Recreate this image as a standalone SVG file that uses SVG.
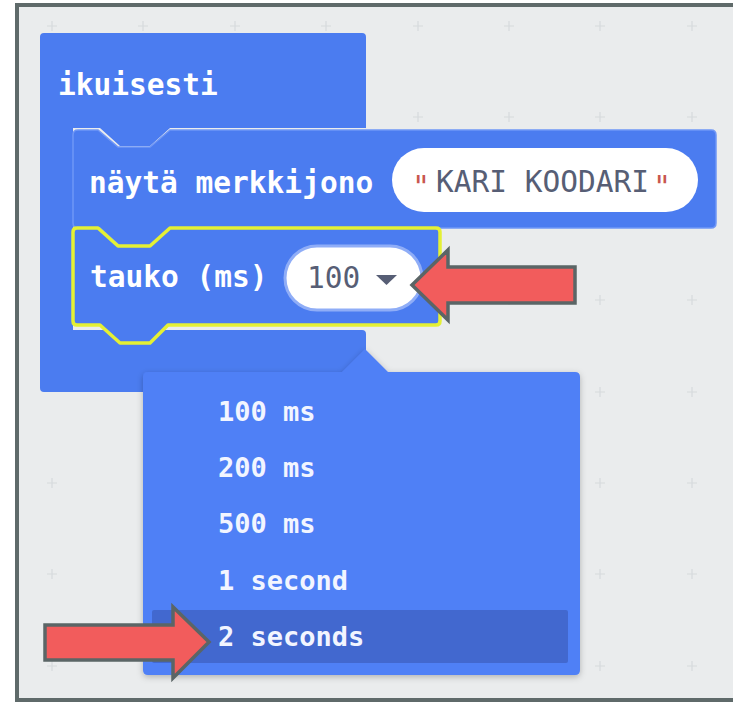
<svg xmlns="http://www.w3.org/2000/svg" width="733" height="702" viewBox="0 0 733 702">
<defs>
<style>
.blk{fill:#4b7cf0}
.txt{font-family:"DejaVu Sans Mono","Liberation Mono",monospace;font-weight:bold;font-size:29.5px;fill:#ffffff}
.menu{font-size:27px;fill:#f2f5ff}
.val{font-weight:normal;fill:#575e75}
.quote{font-weight:normal;fill:#c9574f;font-size:30px}
.arrow{fill:#f25c5c;stroke:#5b6566;stroke-width:3.5;stroke-linejoin:miter}
.grid{stroke:#d6dadc;stroke-width:1.2;fill:none}
</style>
<filter id="sh" x="-10%" y="-10%" width="120%" height="120%">
<feDropShadow dx="0" dy="2" stdDeviation="3" flood-color="#000" flood-opacity="0.25"/>
</filter>
</defs>
<g id="background">
<rect x="0" y="0" width="733" height="702" fill="#ffffff"/>
<rect x="17" y="5" width="730" height="695" fill="#eaeced" stroke="#5f6a6a" stroke-width="4"/>
<path class="grid" d="M47,26h10M52,21v10 M138,26h10M143,21v10 M230,26h10M235,21v10 M321,26h10M326,21v10 M413,26h10M418,21v10 M504,26h10M509,21v10 M595,26h10M600,21v10 M687,26h10M692,21v10
M413,117h10M418,112v10 M504,117h10M509,112v10 M595,117h10M600,112v10 M687,117h10M692,112v10
M595,209h10M600,204v10 M687,209h10M692,204v10
M504,300h10M509,295v10 M595,300h10M600,295v10 M687,300h10M692,295v10
M595,392h10M600,387v10 M687,392h10M692,387v10
M47,483h10M52,478v10 M595,483h10M600,478v10 M687,483h10M692,478v10
M47,574h10M52,569v10 M595,574h10M600,569v10 M687,574h10M692,569v10
M47,666h10M52,661v10 M595,666h10M600,661v10 M687,666h10M692,661v10"/>
</g>
<g id="ikuisesti">
<path class="blk" d="M44,33 H362 Q366,33 366,37 V128 H170 L150,146 H120 L100,128 H73 V330 H362 Q366,330 366,334 V388 Q366,392 362,392 H44 Q40,392 40,388 V37 Q40,33 44,33 Z"/>
<text class="txt" x="58" y="95">ikuisesti</text>
</g>
<g id="nayta-merkkijono">
<path class="blk" stroke="#6f96f6" stroke-width="1.5" d="M78,130 H98 L118,147 H150 L170,130 H711 Q716,130 716,135 V223 Q716,228 711,228 H170 L150,246 H120 L100,228 H78 Q73,228 73,223 V135 Q73,130 78,130 Z"/>
<text class="txt" x="89" y="193">näytä merkkijono</text>
<rect x="392" y="148" width="306" height="64" rx="32" fill="#ffffff"/>
<text class="txt quote" x="421" y="197" text-anchor="middle">"</text>
<text class="txt val" x="436" y="192">KARI KOODARI</text>
<text class="txt quote" x="662" y="197" text-anchor="middle">"</text>
</g>
<g id="tauko">
<path class="blk" stroke="#e4f034" stroke-width="3.5" stroke-linejoin="round" d="M77,228 H98 L118,246 H150 L170,228 H436 Q440,228 440,232 V321 Q440,325 436,325 H168 L150,343 H120 L100,325 H77 Q73,325 73,321 V232 Q73,228 77,228 Z"/>
<text class="txt" x="90" y="287">tauko (ms)</text>
<rect x="285" y="246" width="137" height="64" rx="32" fill="#ffffff" stroke="#8fadf7" stroke-width="3"/>
<text class="txt val" x="307" y="288">100</text>
<path d="M376,275 H397 L386.5,285 Z" fill="#575e75"/>
</g>
<g id="dropdown">
<path fill="#4f80f6" filter="url(#sh)" d="M148,372 H342 L365,349 L388,372 H575 Q580,372 580,377 V670 Q580,675 575,675 H148 Q143,675 143,670 V377 Q143,372 148,372 Z"/>
<rect x="152" y="610" width="416" height="53" rx="2" fill="#4268cf"/>
<text class="txt menu" x="218" y="421">100 ms</text>
<text class="txt menu" x="218" y="477">200 ms</text>
<text class="txt menu" x="218" y="533">500 ms</text>
<text class="txt menu" x="218" y="590">1 second</text>
<text class="txt menu" x="218" y="646">2 seconds</text>
</g>
<g id="annotations">
<polygon class="arrow" points="412,285 448,250 448,267 575,267 575,303 448,303 448,320"/>
<polygon class="arrow" points="209,642 173,607 173,625 45,625 45,660 173,660 173,678"/>
</g>
</svg>
